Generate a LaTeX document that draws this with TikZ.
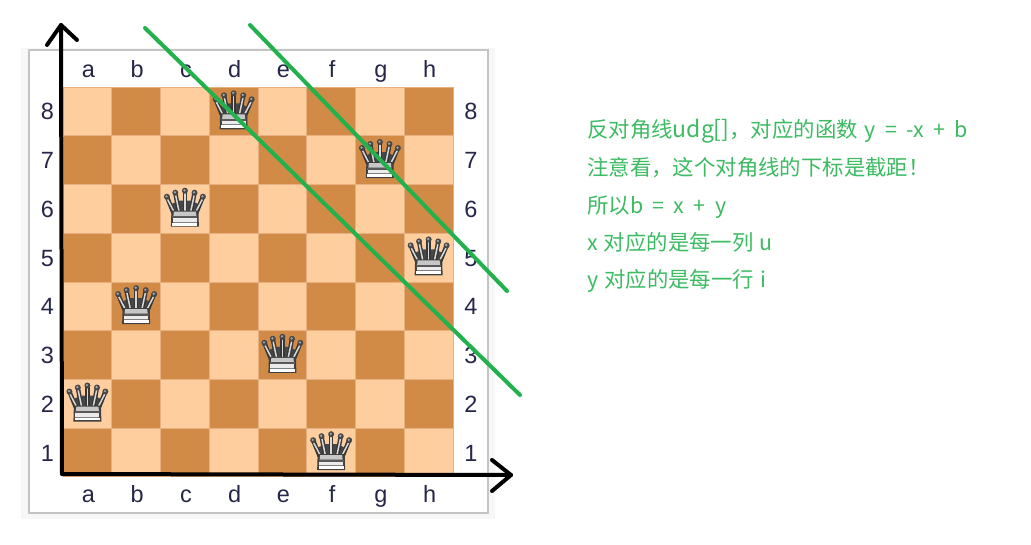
\documentclass[tikz,border=0pt]{standalone}
\usepackage{fontspec}
\setmainfont{Liberation Sans}
\newfontfamily\cjk[WordSpace=1.95]{Noto Sans CJK SC}
\definecolor{lightsq}{HTML}{FFCE9E}
\definecolor{darksq}{HTML}{D18B47}
\definecolor{gridc}{HTML}{E8B080}
\definecolor{framec}{HTML}{C4C4C4}
\definecolor{haloc}{HTML}{F7F7F7}
\definecolor{lineg}{HTML}{22B14C}
\definecolor{textg}{HTML}{3CBB62}
\definecolor{labelc}{HTML}{26264A}
\tikzset{
  axisline/.style={line width=4pt,black,line cap=round,line join=round},
  diagline/.style={line width=4pt,lineg,line cap=round},
  coordlabel/.style={text=labelc,font=\fontsize{23.5}{24}\selectfont,inner sep=0pt,anchor=base},
  notetext/.style={text=textg,font=\cjk\fontsize{21.4}{22}\selectfont,inner sep=0pt,anchor=base west},
  pics/queen/.style={code={
    \fill[black!72] (-15,-4) -- (-6,-8) -- (6,-8) -- (15,-4) -- (13,4) -- (-13,4) -- cycle;
    \foreach \px/\py/\qx in {-18/-12/-11.5,-9.6/-16/-6,0/-18/0,9.6/-16/6,18/-12/11.5}{
      \draw[line width=4.4pt,black!78,line cap=round] (\px,\py) -- (\qx,4);
      \draw[line width=1.5pt,black!15,line cap=round] (\px*0.96,\py+2.8) -- (\qx,2);
    }
    \fill[black!75] (-13.5,2) -- (13.5,2) -- (14,18) -- (-14,18) -- cycle;
    \fill[black!22] (-11,3) -- (11,3) -- (11.5,7.5) -- (-11.5,7.5) -- cycle;
    \fill[black!65] (-12.5,7.5) rectangle (12.5,9.5);
    \fill[black!8] (-12,9.5) rectangle (12,13);
    \fill[black!50] (-12,13) rectangle (12,14);
    \fill[white] (-12.5,14) rectangle (12.5,16.8);
    \foreach \px/\py in {-18/-12,-9.6/-16,0/-18,9.6/-16,18/-12}{
      \fill[black!72] (\px,\py) circle (3);
      \fill[black!35] (\px-0.4,\py-0.4) circle (1.3);
    }
  }}
}
\begin{document}
\begin{tikzpicture}[x=1pt,y=-1pt]
\useasboundingbox (0,0) rectangle (1031,544);
\fill[white] (0,0) rectangle (1031,544);
% frame
\fill[haloc] (21,48) rectangle (495,519);
\fill[white,draw=framec,line width=2pt] (29,50) rectangle (488,513);
% board
\foreach \c in {0,...,7}{
  \foreach \r in {0,...,7}{
    \pgfmathtruncatemacro{\s}{mod(\c+\r,2)}
    \ifnum\s=0 \def\sq{lightsq}\else\def\sq{darksq}\fi
    \fill[\sq,draw=gridc,line width=0.6pt] ({63+48.75*\c},{87+48.7*\r}) rectangle ++(48.75,48.7);
  }
}
% labels
\foreach \c/\l in {0/a,1/b,2/c,3/d,4/e,5/f,6/g,7/h}{
  \node[coordlabel] (top\l) at ({88.5+48.75*\c},77) {\l};
  \node[coordlabel] (bot\l) at ({88.5+48.75*\c},502) {\l};
}
\foreach \r in {1,...,8}{
  \node[coordlabel] (lft\r) at (47.5,{119.8+48.75*(8-\r)}) {\r};
  \node[coordlabel] (rgt\r) at (471,{119.8+48.75*(8-\r)}) {\r};
}
% queens
\foreach \c/\r in {3/0,6/1,2/2,7/3,1/4,4/5,0/6,5/7}{
  \pic at ({87.4+48.75*\c},{111.3+48.7*\r}) {queen};
}
% axes
\coordinate (origin) at (62,474);
\coordinate (ytip) at (61,25);
\coordinate (xtip) at (511,475);
\coordinate (yl) at (47,45);
\coordinate (yr) at (77,40);
\coordinate (xu) at (492,460);
\coordinate (xd) at (492,491);
\draw[axisline] (origin) -- (ytip);
\draw[axisline] (yl) -- (ytip) -- (yr);
\draw[axisline] (origin) -- (xtip);
\draw[axisline] (xu) -- (xtip) -- (xd);
% diagonals
\coordinate (d1a) at (145,28);
\coordinate (d1b) at (520,395);
\coordinate (d2a) at (250,25);
\coordinate (d2b) at (507,291);
\draw[diagline] (d1a) -- (d1b);
\draw[diagline] (d2a) -- (d2b);
% notes
\node[notetext] (n1) at (587,137) {反对角线{\fontsize{23}{24}\selectfont udg[]}，对应的函数\hspace{7pt}y = -x + b};
\node[notetext] (n2) at (587,175) {注意看，这个对角线的下标是截距！};
\node[notetext] (n3) at (587,213) {所以b = x + y};
\node[notetext] (n4) at (587,250) {x\hspace{6pt}对应的是每一列\hspace{6pt}u};
\node[notetext] (n5) at (587,287) {y\hspace{6pt}对应的是每一行\hspace{6pt}i};
\end{tikzpicture}
\end{document}
